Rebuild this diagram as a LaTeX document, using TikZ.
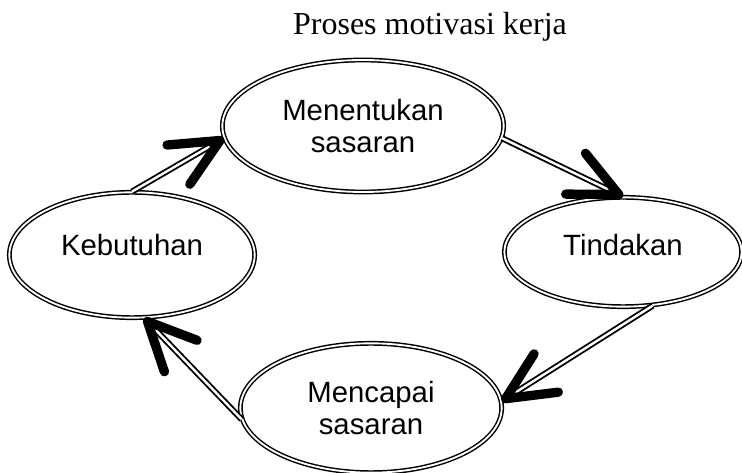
\documentclass[tikz,border=0pt]{standalone}
\usepackage{fontspec}
\setmainfont{Liberation Serif}
\setsansfont{Liberation Sans}
\usetikzlibrary{shapes.geometric,arrows.meta}

\begin{document}
\begin{tikzpicture}[x=0.75pt,y=-0.75pt,
state/.style={ellipse, draw, line width=1.1pt, double distance=1.4pt, inner sep=0pt,
    align=center, font=\sffamily\fontsize{22}{24}\selectfont},
link/.style={line width=1.4pt, double distance=1.8pt,
    -{Straight Barb[length=36pt, width=34pt, line width=7pt, round]}}]
\useasboundingbox (0,0) rectangle (742,473);
\node[font=\fontsize{24}{26}\selectfont, anchor=base] (title) at (430,35) {Proses motivasi kerja};
\node[state, minimum width=211pt, minimum height=99pt] (menentukan) at (363,126) {Menentukan\\sasaran};
\node[state, minimum width=184pt, minimum height=94pt] (kebutuhan) at (132,255) {\raisebox{15pt}{Kebutuhan}};
\node[state, minimum width=178pt, minimum height=82pt] (tindakan) at (623,252) {\raisebox{10pt}{Tindakan}};
\node[state, minimum width=196pt, minimum height=97pt] (mencapai) at (371,408) {Mencapai\\sasaran};
\draw[link] (kebutuhan.north) -- (menentukan.185);
\draw[link] (menentukan.355) -- (tindakan.north);
\draw[link] (tindakan.-61) -- (mencapai.3);
\draw[link] (mencapai.185) -- (kebutuhan.-79);
\end{tikzpicture}
\end{document}
